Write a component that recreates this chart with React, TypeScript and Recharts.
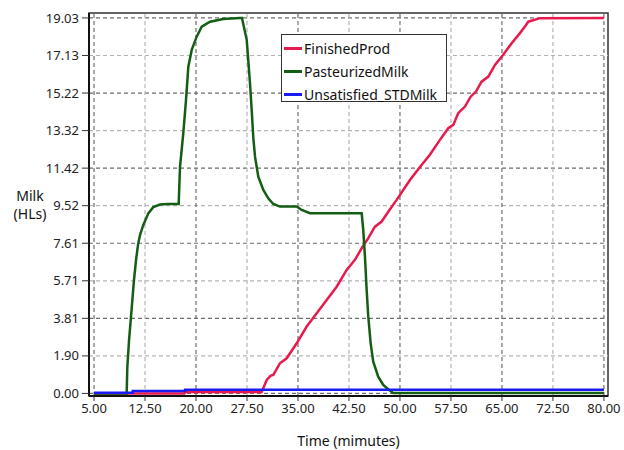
import React from "react";
import {
  LineChart,
  Line,
  XAxis,
  YAxis,
  ReferenceLine,
  ReferenceArea,
  Legend,
  Label,
} from "recharts";

// time (minutes) / milk (HLs)
const finishedTime = [
  5, 18.3, 18.4, 29.66, 30.4, 31.0, 31.37, 32.35, 33.34, 34.81, 36.28, 37.75,
  39.22, 40.69, 42.16, 43.38, 44.37, 45.34, 46.32, 47.31, 48.28, 49.51, 51.47,
  53.0, 54.4, 55.88, 57.1, 57.84, 58.57, 59.56, 60.4, 61.18, 62.01, 63.0,
  63.97, 65.19, 66.43, 67.65, 68.38, 68.87, 70.6, 80,
];
const finishedValue = [
  0, 0, 0.07, 0.07, 0.68, 0.9, 0.94, 1.53, 1.78, 2.54, 3.39, 4.06, 4.74, 5.41,
  6.26, 6.77, 7.36, 7.87, 8.45, 8.71, 9.21, 9.81, 10.82, 11.5, 12.1, 12.85,
  13.44, 13.61, 14.2, 14.54, 15.04, 15.3, 15.8, 16.06, 16.65, 17.16, 17.75,
  18.26, 18.59, 18.84, 19.02, 19.03,
];

const pasteurizedTime = [
  5, 9.8, 9.9, 10.15, 10.4, 10.64, 10.88, 11.18, 11.47, 11.76, 12.25, 13.0,
  13.72, 14.7, 15.9, 17.45, 17.65, 18.13, 18.53, 18.87, 19.37, 20.1, 20.84,
  22.06, 24.0, 26.5, 26.76, 27.46, 27.94, 28.19, 28.43, 28.68, 29.16, 29.9,
  30.63, 31.37, 32.35, 34.8, 35.54, 36.76, 44.37, 44.6, 44.85, 45.1, 45.34,
  45.69, 46.07, 46.8, 47.54, 48.28, 49.0, 80,
];
const pasteurizedValue = [
  0, 0, 1.35, 2.7, 3.73, 4.74, 5.75, 6.77, 7.53, 8.03, 8.54, 9.14, 9.44, 9.57,
  9.6, 9.6, 11.5, 13.19, 14.88, 16.56, 17.41, 18.08, 18.59, 18.84, 18.98,
  19.03, 19.03, 17.92, 15.72, 14.37, 12.95, 12.0, 10.99, 10.31, 9.89, 9.6,
  9.47, 9.47, 9.3, 9.13, 9.13, 8.29, 6.93, 5.25, 3.89, 2.54, 1.61, 0.85, 0.43,
  0.21, 0.02, 0.02,
];

const unsatisfiedTime = [5, 10.7, 10.7, 18.4, 18.4, 80];
const unsatisfiedValue = [0.03, 0.03, 0.12, 0.12, 0.19, 0.19];

const xTicks = [5, 12.5, 20, 27.5, 35, 42.5, 50, 57.5, 65, 72.5, 80];
const xTickLabels = [
  "5.00", "12.50", "20.00", "27.50", "35.00", "42.50",
  "50.00", "57.50", "65.00", "72.50", "80.00",
];
const yTicks = [
  0, 1.903, 3.806, 5.709, 7.612, 9.515, 11.418, 13.321, 15.224, 17.127, 19.03,
];
const yTickLabels = [
  "0.00", "1.90", "3.81", "5.71", "7.61", "9.52",
  "11.42", "13.32", "15.22", "17.13", "19.03",
];

const X_MIN = 4.26;
const X_MAX = 80.6;
const Y_MIN = -0.13;
const Y_MAX = 19.28;

const zip = (ts: number[], vs: number[]) => ts.map((t, i) => ({ t, v: vs[i] }));

const series = [
  { name: "FinishedProd", color: "#E8194D", data: zip(finishedTime, finishedValue) },
  { name: "PasteurizedMilk", color: "#145E14", data: zip(pasteurizedTime, pasteurizedValue) },
  { name: "Unsatisfied_STDMilk", color: "#1A1AF5", data: zip(unsatisfiedTime, unsatisfiedValue) },
];

const FONT = "'Noto Sans', 'DejaVu Sans', sans-serif";
const DARK_GRID = "#6e6e6e";
const LIGHT_GRID = "#b4b4b4";

function ChartLegend() {
  return (
    <div
      style={{
        width: 164,
        height: 64,
        border: "1px solid #333",
        background: "#fff",
        fontFamily: FONT,
        fontSize: 14,
        color: "#111",
        paddingTop: 2,
        boxSizing: "content-box",
      }}
    >
      {series.map((s) => (
        <div
          key={s.name}
          style={{ display: "flex", alignItems: "center", height: 23, lineHeight: "23px" }}
        >
          <span
            style={{
              display: "inline-block",
              width: 18,
              height: 2.5,
              marginLeft: 2,
              marginRight: 2,
              background: s.color,
            }}
          />
          <span>{s.name}</span>
        </div>
      ))}
    </div>
  );
}

export default function App() {
  return (
    <div style={{ position: "absolute", left: 0, top: 0, width: 624, height: 450, background: "#fff" }}>
      <LineChart
        width={624}
        height={450}
        margin={{ top: 13, right: 16, bottom: 14, left: 0 }}
      >
        <XAxis
          dataKey="t"
          type="number"
          domain={[X_MIN, X_MAX]}
          ticks={xTicks}
          allowDataOverflow
          height={40}
          tickSize={5}
          tickMargin={3}
          tickFormatter={(v: number) => xTickLabels[xTicks.indexOf(v)] ?? ""}
          tick={{ fontSize: 13, fill: "#222", fontFamily: FONT }}
          tickLine={{ stroke: "#333" }}
          axisLine={{ stroke: "#111", strokeWidth: 2 }}
        >
          <Label
            value="Time (mimutes)"
            position="insideBottom"
            offset={-10}
            style={{ fontSize: 14, fill: "#111", fontFamily: FONT }}
          />
        </XAxis>
        <YAxis
          type="number"
          domain={[Y_MIN, Y_MAX]}
          ticks={yTicks}
          allowDataOverflow
          width={89}
          tickSize={7}
          tickMargin={3}
          tickFormatter={(v: number) => yTickLabels[yTicks.indexOf(v)] ?? ""}
          tick={{ fontSize: 13, fill: "#222", fontFamily: FONT }}
          tickLine={{ stroke: "#333" }}
          axisLine={{ stroke: "#111", strokeWidth: 2 }}
        >
          <Label
            content={() => (
              <text
                x={30}
                y={201}
                textAnchor="middle"
                style={{ fontSize: 14, fill: "#111", fontFamily: FONT }}
              >
                <tspan x={30} dy={0}>Milk</tspan>
                <tspan x={30} dy={18}>(HLs)</tspan>
              </text>
            )}
          />
        </YAxis>

        {yTicks.map((v, i) => (
          <ReferenceLine
            key={"h" + v}
            y={v}
            stroke={i % 2 === 0 ? DARK_GRID : LIGHT_GRID}
            strokeWidth={1.2}
            strokeDasharray="4 3"
          />
        ))}
        {xTicks.map((v, i) => (
          <ReferenceLine
            key={"v" + v}
            x={v}
            stroke={i % 2 === 0 ? DARK_GRID : LIGHT_GRID}
            strokeWidth={1.2}
            strokeDasharray="4 3"
          />
        ))}
        <ReferenceArea
          x1={X_MIN}
          x2={X_MAX}
          y1={Y_MIN}
          y2={Y_MAX}
          fill="none"
          stroke="#333"
          strokeWidth={1.5}
        />

        {series.map((s) => (
          <Line
            key={s.name}
            data={s.data}
            dataKey="v"
            name={s.name}
            type="linear"
            stroke={s.color}
            strokeWidth={2.5}
            dot={false}
            activeDot={false}
            isAnimationActive={false}
          />
        ))}

        <Legend
          layout="horizontal"
          verticalAlign="middle"
          align="center"
          wrapperStyle={{ position: "absolute", left: 281, top: 34, width: "auto", height: "auto" }}
          content={() => <ChartLegend />}
        />
      </LineChart>
    </div>
  );
}
